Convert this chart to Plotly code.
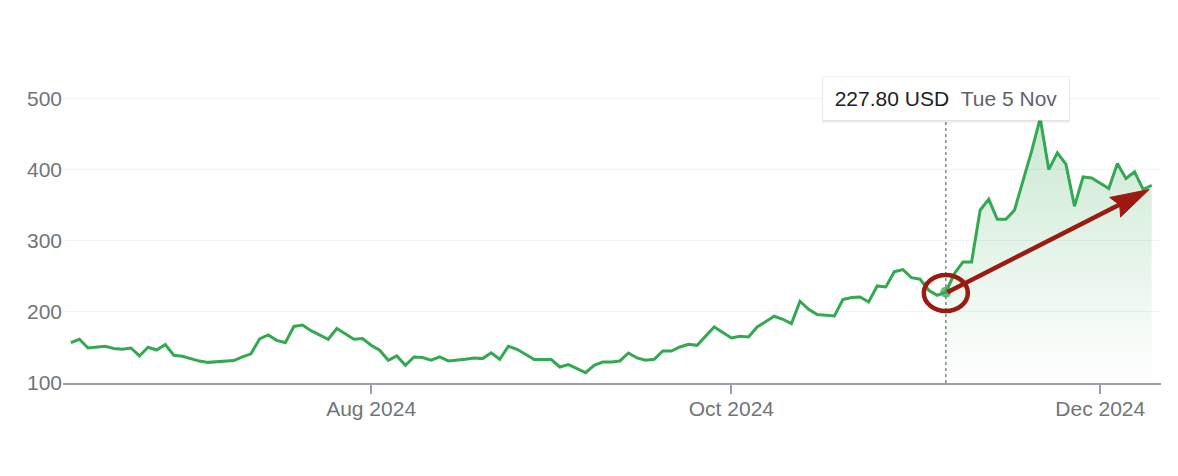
import pandas as pd
import plotly.graph_objects as go

# ---------------- data ----------------
holidays = ["2024-06-19", "2024-07-04", "2024-09-02", "2024-11-28"]
dates = pd.bdate_range("2024-06-11", "2024-12-10", freq="C", holidays=holidays)

prices = [
    156.8, 161.5, 149.2, 150.2, 151.6, 148.4, 147.4, 149.2, 138.0, 150.2,
    146.4, 154.0, 139.0, 137.5, 133.8, 130.8, 129.0, 129.8, 131.0, 131.5,
    136.6, 141.0, 162.0, 167.5, 160.0, 156.5, 179.5, 181.5, 173.5, 168.0,
    161.5, 176.5, 169.5, 161.5, 162.4, 153.0, 146.0, 131.9, 138.0, 124.9,
    136.6, 135.7, 132.0, 136.6, 131.0, 132.0, 133.3, 135.2, 134.3, 142.5,
    133.3, 151.6, 147.4, 140.4, 132.9, 132.9, 132.9, 122.5, 125.9, 120.3,
    114.6, 124.9, 129.5, 129.5, 131.0, 142.2, 135.2, 132.0, 133.3, 145.0,
    145.0, 150.6, 154.4, 153.0, 166.0, 178.8, 170.9, 163.3, 165.7, 164.7,
    178.8, 186.8, 193.8, 189.6, 183.5, 214.9, 203.7, 196.2, 195.2, 194.2,
    217.3, 220.1, 221.0, 213.9, 236.4, 235.0, 256.5, 259.5, 248.0, 245.9,
    230.4, 223.3, 227.8, 253.9, 270.2, 270.2, 342.9, 358.4, 330.2, 330.2,
    342.9, 384.0, 426.0, 472.0, 400.0, 423.5, 407.6, 348.5, 389.7, 388.3,
    381.3, 373.4, 408.6, 387.5, 396.8, 372.0, 378.0,
]

hover_date = "2024-11-05"
hover_price = 227.80
hover_label = "227.80 USD"
hover_day = "Tue 5 Nov"

arrow_tip_date = "2024-12-09 17:00"
arrow_tip_value = 372

x_tickvals = ["2024-08-01", "2024-10-01", "2024-12-02"]
x_ticktext = ["Aug 2024", "Oct 2024", "Dec 2024"]
y_tickvals = [100, 200, 300, 400, 500]

GREEN = "#34a853"
RED = "#9b1b12"
GREY = "#70757a"
FONT = "Arial, Liberation Sans, sans-serif"

idx = list(dates).index(pd.Timestamp(hover_date))

fig = go.Figure()

# gradient fill after hover point
fig.add_trace(go.Scatter(
    x=dates[idx:], y=prices[idx:], mode="lines",
    line=dict(width=0, color=GREEN),
    fill="tozeroy",
    fillgradient=dict(type="vertical",
                      colorscale=[[0, "rgba(52,168,83,0)"], [1, "rgba(52,168,83,0.26)"]],
                      start=100, stop=470),
    hoverinfo="skip", showlegend=False,
))

# main price line
fig.add_trace(go.Scatter(
    x=dates, y=prices, mode="lines",
    line=dict(width=3, color=GREEN),
    hoverinfo="skip", showlegend=False,
))

# hover point
fig.add_trace(go.Scatter(
    x=[hover_date], y=[hover_price], mode="markers",
    marker=dict(size=11, color="rgba(52,168,83,0.75)", line=dict(width=0)),
    hoverinfo="skip", showlegend=False,
))

# dotted vertical hover line
fig.add_shape(type="line", xref="x", yref="y",
              x0=hover_date, x1=hover_date, y0=100, y1=490,
              line=dict(color="#80868b", width=1.5, dash="dot"), layer="below")

# red ellipse
fig.add_shape(type="circle", xref="x", yref="y",
              xsizemode="pixel", ysizemode="pixel",
              xanchor=hover_date, yanchor=226.5,
              x0=-22, x1=22, y0=-18, y1=18,
              line=dict(color=RED, width=4.5), layer="above")

# red arrow shaft
fig.add_annotation(
    x=arrow_tip_date, y=arrow_tip_value, xref="x", yref="y",
    ax=hover_date, ay=226.5, axref="x", ayref="y",
    text="", showarrow=True, arrowhead=0, arrowwidth=4.5,
    arrowcolor=RED, standoff=22,
)
# red arrow head (pixel-sized polygon anchored at the tip)
fig.add_shape(type="path", xref="x", yref="y",
              xsizemode="pixel", ysizemode="pixel",
              xanchor=arrow_tip_date, yanchor=arrow_tip_value,
              path="M0,0 L-39.5,-7.9 L-29.5,-15.5 L-28.6,-27.5 Z",
              fillcolor=RED, line=dict(color=RED, width=1), layer="above")

# tooltip shadow
for ys, col in [(-3, "rgba(0,0,0,0.04)"), (-1.5, "rgba(0,0,0,0.07)")]:
    fig.add_annotation(
        x=hover_date, y=500, xref="x", yref="y", yshift=ys,
        text=" ", showarrow=False, width=228, height=25, borderpad=9,
        bgcolor=col, borderwidth=1, bordercolor="rgba(0,0,0,0)",
        font=dict(size=21, family=FONT),
    )
# tooltip
fig.add_annotation(
    x=hover_date, y=500, xref="x", yref="y",
    text=f"<span style='color:#202124'>{hover_label}</span>&nbsp;&nbsp;"
         f"<span style='color:#5f6368'>{hover_day}</span>",
    showarrow=False, width=228, height=25, borderpad=9,
    bgcolor="white", borderwidth=1, bordercolor="rgba(0,0,0,0.06)",
    font=dict(size=21, family=FONT, color="#202124"),
)

fig.update_layout(
    width=1170, height=468,
    margin=dict(l=55, r=17, t=62, b=93),
    paper_bgcolor="white", plot_bgcolor="white",
    font=dict(family=FONT, color=GREY, size=21),
    hovermode=False,
    xaxis=dict(
        type="date",
        range=["2024-06-10 02:00", "2024-12-11 02:00"],
        rangebreaks=[dict(bounds=["sat", "mon"]), dict(values=holidays)],
        tickmode="array", tickvals=x_tickvals, ticktext=x_ticktext,
        ticks="outside", ticklen=9, tickwidth=1.5, tickcolor="#9aa0a6",
        ticklabelstandoff=-3,
        showline=True, linecolor="#9aa0a6", linewidth=1.5,
        showgrid=False, zeroline=False,
        tickfont=dict(size=21, color=GREY, family=FONT),
    ),
    yaxis=dict(
        range=[100, 540],
        tickmode="array", tickvals=y_tickvals,
        showgrid=True, gridcolor="#f1f3f4", gridwidth=1,
        zeroline=False, showline=False, ticks="",
        tickfont=dict(size=21, color=GREY, family=FONT),
    ),
)

fig.write_html("out.html")
